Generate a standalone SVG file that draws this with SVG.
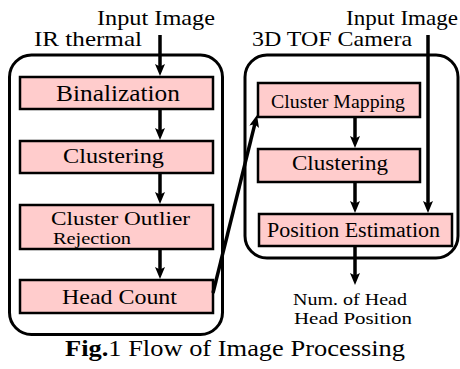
<svg xmlns="http://www.w3.org/2000/svg" width="460" height="369" viewBox="0 0 460 369">
<style>
  .container { fill: none; stroke: #000; stroke-width: 3; }
  .box { fill: #ffcccc; stroke: #000; stroke-width: 2.5; }
  .edge { stroke: #000; stroke-width: 3.5; fill: none; marker-end: url(#arr); }
</style>
<defs>
  <marker id="arr" viewBox="0 0 12 10" refX="4" refY="5" markerWidth="12" markerHeight="10" markerUnits="userSpaceOnUse" orient="auto">
    <path d="M0,0 L12,5 L0,10 L2.5,5 z" fill="#000"/>
  </marker>
</defs>
<rect width="460" height="369" fill="#fff"/>
<g id="ir-thermal">
  <rect class="container" x="9.5" y="55" width="213" height="279.5" rx="22"/>
  <text font-family="Liberation Serif" x="34" y="46" font-size="21.5" textLength="108" lengthAdjust="spacingAndGlyphs">IR thermal</text>
</g>
<g id="tof-camera">
  <rect class="container" x="245" y="55" width="213" height="203" rx="22"/>
  <text font-family="Liberation Serif" x="252" y="46" font-size="21.5" textLength="160" lengthAdjust="spacingAndGlyphs">3D TOF Camera</text>
</g>

<g id="input-left">
  <text font-family="Liberation Serif" x="97" y="25" font-size="21.5" textLength="118" lengthAdjust="spacingAndGlyphs">Input Image</text>
</g>
<g id="input-right">
  <text font-family="Liberation Serif" x="346" y="25" font-size="21.5" textLength="112" lengthAdjust="spacingAndGlyphs">Input Image</text>
</g>

<g id="binalization">
  <rect class="box" x="20" y="77" width="193" height="32"/>
  <text font-family="Liberation Serif" x="56" y="101" font-size="22.5" textLength="124" lengthAdjust="spacingAndGlyphs">Binalization</text>
</g>
<g id="clustering-left">
  <rect class="box" x="20" y="141" width="193" height="32"/>
  <text font-family="Liberation Serif" x="63" y="163" font-size="21.5" textLength="101" lengthAdjust="spacingAndGlyphs">Clustering</text>
</g>
<g id="outlier-rejection">
  <rect class="box" x="20" y="205" width="193" height="44"/>
  <text font-family="Liberation Serif" x="51" y="225" font-size="19.5" textLength="139" lengthAdjust="spacingAndGlyphs">Cluster Outlier</text>
  <text font-family="Liberation Serif" x="53" y="244" font-size="17.5" textLength="78" lengthAdjust="spacingAndGlyphs">Rejection</text>
</g>
<g id="head-count">
  <rect class="box" x="20" y="280" width="193" height="33"/>
  <text font-family="Liberation Serif" x="62" y="304" font-size="21.5" textLength="115" lengthAdjust="spacingAndGlyphs">Head Count</text>
</g>

<g id="cluster-mapping">
  <rect class="box" x="258" y="83" width="162" height="34"/>
  <text font-family="Liberation Serif" x="271" y="108" font-size="18.5" textLength="134" lengthAdjust="spacingAndGlyphs">Cluster Mapping</text>
</g>
<g id="clustering-right">
  <rect class="box" x="258" y="149" width="162" height="33"/>
  <text font-family="Liberation Serif" x="292" y="170" font-size="20.5" textLength="96" lengthAdjust="spacingAndGlyphs">Clustering</text>
</g>
<g id="position-estimation">
  <rect class="box" x="259" y="214" width="193" height="32"/>
  <text font-family="Liberation Serif" x="267" y="237" font-size="20.5" textLength="173" lengthAdjust="spacingAndGlyphs">Position Estimation</text>
</g>

<g id="output">
  <text font-family="Liberation Serif" x="293" y="305" font-size="16.5" textLength="114" lengthAdjust="spacingAndGlyphs">Num. of Head</text>
  <text font-family="Liberation Serif" x="294" y="324" font-size="16.5" textLength="118" lengthAdjust="spacingAndGlyphs">Head Position</text>
</g>

<g id="connectors">
  <line class="edge" x1="160" y1="35" x2="160" y2="68"/>
  <line class="edge" x1="160" y1="109" x2="160" y2="132"/>
  <line class="edge" x1="160" y1="173" x2="160" y2="196"/>
  <line class="edge" x1="160" y1="249" x2="160" y2="271"/>
  <line class="edge" x1="213" y1="293" x2="255.1" y2="122.8"/>
  <line class="edge" x1="355" y1="117" x2="355" y2="140"/>
  <line class="edge" x1="355" y1="182" x2="355" y2="205"/>
  <line class="edge" x1="428" y1="35" x2="428" y2="205"/>
  <line class="edge" x1="355" y1="246" x2="355" y2="277"/>
</g>

<g id="caption">
  <text font-family="Liberation Serif" x="65" y="356" font-size="22.5" textLength="340" lengthAdjust="spacingAndGlyphs"><tspan font-weight="bold">Fig.</tspan>1 Flow of Image Processing</text>
</g>
</svg>
